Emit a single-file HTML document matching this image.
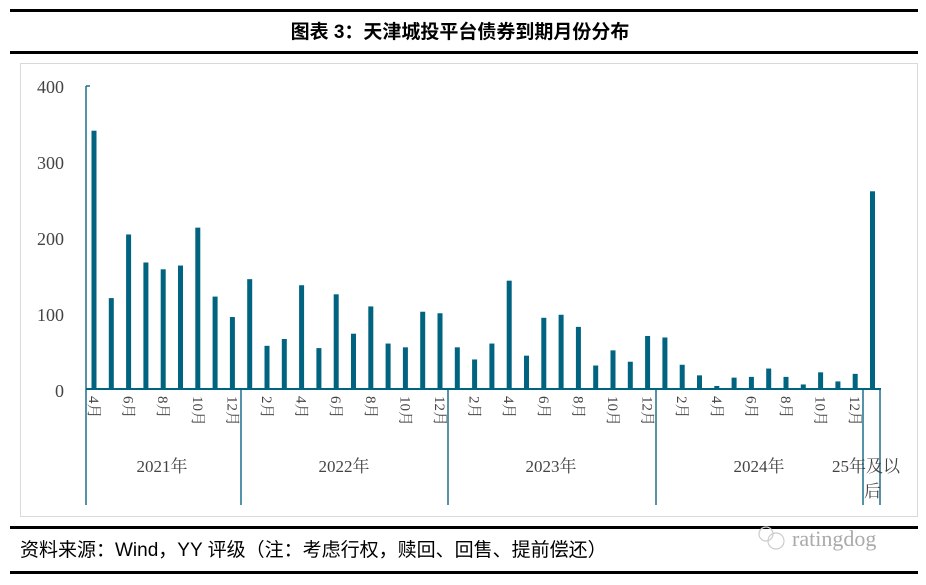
<!DOCTYPE html>
<html><head><meta charset="utf-8"><style>
body{margin:0;background:#fff;width:926px;height:580px;overflow:hidden;font-family:"Liberation Serif","Noto Serif CJK SC",serif}
</style></head><body>
<svg width="926" height="580" xmlns="http://www.w3.org/2000/svg">
<defs><clipPath id="box"><rect x="20" y="63" width="886" height="454"/></clipPath></defs>
<rect x="10" y="9" width="908" height="3" fill="#000"/>
<text x="460" y="38" text-anchor="middle" font-family="Liberation Sans,Noto Sans CJK SC,sans-serif" font-weight="bold" font-size="19">图表 3：天津城投平台债券到期月份分布</text>
<rect x="10" y="51" width="908" height="3" fill="#000"/>
<rect x="20.5" y="63.5" width="897" height="453" fill="none" stroke="#d9d9d9"/>
<g font-size="18" fill="#444" text-anchor="end">
<text x="64" y="93">400</text><text x="64" y="169">300</text><text x="64" y="245">200</text><text x="64" y="321">100</text><text x="64" y="397">0</text>
</g>
<g transform="translate(0,389) scale(1,-0.7575)" fill="#00637f">
<rect x="91.5" y="0" width="5" height="341"/>
<rect x="108.8" y="0" width="5" height="120"/>
<rect x="126.1" y="0" width="5" height="204"/>
<rect x="143.4" y="0" width="5" height="167"/>
<rect x="160.7" y="0" width="5" height="158"/>
<rect x="178.0" y="0" width="5" height="163"/>
<rect x="195.3" y="0" width="5" height="213"/>
<rect x="212.6" y="0" width="5" height="122"/>
<rect x="229.9" y="0" width="5" height="95"/>
<rect x="247.2" y="0" width="5" height="145"/>
<rect x="264.5" y="0" width="5" height="57"/>
<rect x="281.8" y="0" width="5" height="66"/>
<rect x="299.1" y="0" width="5" height="137"/>
<rect x="316.4" y="0" width="5" height="54"/>
<rect x="333.7" y="0" width="5" height="125"/>
<rect x="351.0" y="0" width="5" height="73"/>
<rect x="368.3" y="0" width="5" height="109"/>
<rect x="385.6" y="0" width="5" height="60"/>
<rect x="402.9" y="0" width="5" height="55"/>
<rect x="420.2" y="0" width="5" height="102"/>
<rect x="437.5" y="0" width="5" height="100"/>
<rect x="454.8" y="0" width="5" height="55"/>
<rect x="472.1" y="0" width="5" height="39"/>
<rect x="489.4" y="0" width="5" height="60"/>
<rect x="506.7" y="0" width="5" height="143"/>
<rect x="524.0" y="0" width="5" height="44"/>
<rect x="541.3" y="0" width="5" height="94"/>
<rect x="558.6" y="0" width="5" height="98"/>
<rect x="575.9" y="0" width="5" height="82"/>
<rect x="593.2" y="0" width="5" height="31"/>
<rect x="610.5" y="0" width="5" height="51"/>
<rect x="627.8" y="0" width="5" height="36"/>
<rect x="645.1" y="0" width="5" height="70"/>
<rect x="662.4" y="0" width="5" height="68"/>
<rect x="679.7" y="0" width="5" height="32"/>
<rect x="697.0" y="0" width="5" height="18"/>
<rect x="714.3" y="0" width="5" height="4"/>
<rect x="731.6" y="0" width="5" height="15"/>
<rect x="748.9" y="0" width="5" height="16"/>
<rect x="766.2" y="0" width="5" height="27"/>
<rect x="783.5" y="0" width="5" height="16"/>
<rect x="800.8" y="0" width="5" height="6"/>
<rect x="818.1" y="0" width="5" height="22"/>
<rect x="835.4" y="0" width="5" height="10"/>
<rect x="852.7" y="0" width="5" height="20"/>
<rect x="870.0" y="0" width="5" height="261"/>
</g>
<g stroke="#1f6f8b" stroke-width="1.5">
<line x1="86" y1="86" x2="86" y2="505"/><line x1="86" y1="86" x2="90" y2="86"/>
<line x1="241" y1="389" x2="241" y2="505"/><line x1="448" y1="389" x2="448" y2="505"/>
<line x1="656" y1="389" x2="656" y2="505"/><line x1="863" y1="389" x2="863" y2="505"/><line x1="880" y1="389" x2="880" y2="505"/>
</g>
<line x1="86" y1="389" x2="881" y2="389" stroke="#00637f" stroke-width="2"/>
<g font-size="15" fill="#444">
<text transform="translate(89,396) rotate(90)">4月</text>
<text transform="translate(123.6,396) rotate(90)">6月</text>
<text transform="translate(158.2,396) rotate(90)">8月</text>
<text transform="translate(192.8,396) rotate(90)">10月</text>
<text transform="translate(227.4,396) rotate(90)">12月</text>
<text transform="translate(262,396) rotate(90)">2月</text>
<text transform="translate(296.6,396) rotate(90)">4月</text>
<text transform="translate(331.2,396) rotate(90)">6月</text>
<text transform="translate(365.8,396) rotate(90)">8月</text>
<text transform="translate(400.4,396) rotate(90)">10月</text>
<text transform="translate(435,396) rotate(90)">12月</text>
<text transform="translate(469.6,396) rotate(90)">2月</text>
<text transform="translate(504.2,396) rotate(90)">4月</text>
<text transform="translate(538.8,396) rotate(90)">6月</text>
<text transform="translate(573.4,396) rotate(90)">8月</text>
<text transform="translate(608,396) rotate(90)">10月</text>
<text transform="translate(642.6,396) rotate(90)">12月</text>
<text transform="translate(677.2,396) rotate(90)">2月</text>
<text transform="translate(711.8,396) rotate(90)">4月</text>
<text transform="translate(746.4,396) rotate(90)">6月</text>
<text transform="translate(781,396) rotate(90)">8月</text>
<text transform="translate(815.6,396) rotate(90)">10月</text>
<text transform="translate(850.2,396) rotate(90)">12月</text>
</g>
<g font-size="17" fill="#444" clip-path="url(#box)">
<text x="162" y="472" text-anchor="middle">2021年</text>
<text x="344" y="472" text-anchor="middle">2022年</text>
<text x="551" y="472" text-anchor="middle">2023年</text>
<text x="759" y="472" text-anchor="middle">2024年</text>
<text x="832" y="472">25年及以</text>
<text x="864" y="497">后</text>
</g>
<rect x="10" y="526" width="908" height="3" fill="#000"/>
<text x="20" y="556" font-family="Liberation Sans,Noto Sans CJK SC,sans-serif" font-size="19">资料来源：Wind，YY 评级（注：考虑行权，赎回、回售、提前偿还）</text>
<text x="792" y="546" font-family="Liberation Serif,serif" font-size="22" fill="#aaa">ratingdog</text>
<circle cx="766" cy="534" r="7" fill="none" stroke="#ccc" stroke-width="1.2"/>
<circle cx="776" cy="541" r="8" fill="none" stroke="#ccc" stroke-width="1.2"/>
<rect x="10" y="571" width="908" height="3" fill="#000"/>
</svg>
</body></html>
